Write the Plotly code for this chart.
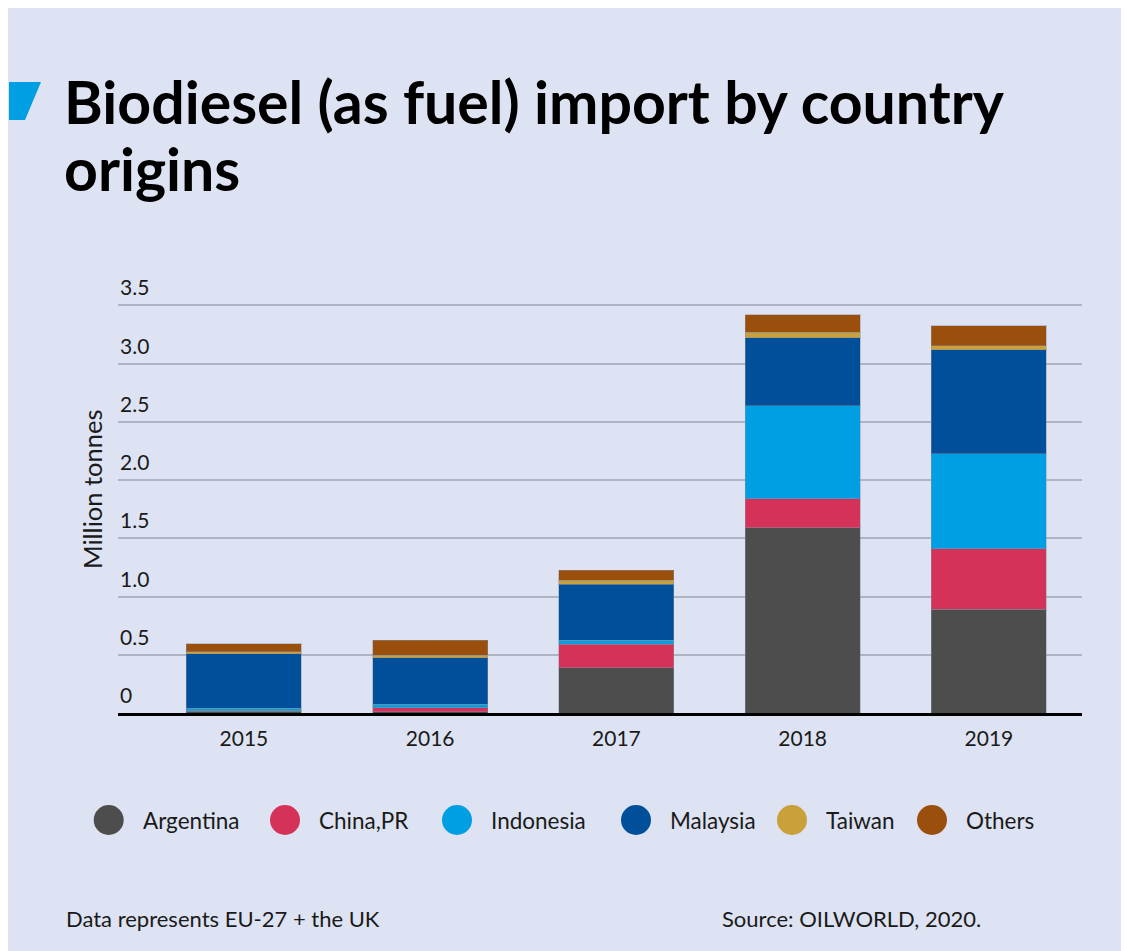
import plotly.graph_objects as go

# ---- data ----
years = ["2015", "2016", "2017", "2018", "2019"]
argentina = [0.015, 0.010, 0.39, 1.59, 0.89]
china = [0.005, 0.035, 0.20, 0.25, 0.52]
indonesia = [0.020, 0.030, 0.035, 0.80, 0.815]
malaysia = [0.470, 0.400, 0.480, 0.58, 0.895]
taiwan = [0.015, 0.020, 0.035, 0.05, 0.035]
others = [0.070, 0.130, 0.085, 0.15, 0.17]

series_names = ["Argentina", "China,PR", "Indonesia", "Malaysia", "Taiwan", "Others"]
series_values = [argentina, china, indonesia, malaysia, taiwan, others]
series_colors = ["#4d4d4d", "#d5325a", "#009fe3", "#004f9a", "#c9a03a", "#9b4f0c"]

y_tickvals = [0, 0.5, 1.0, 1.5, 2.0, 2.5, 3.0, 3.5]
y_ticktext = ["0", "0.5", "1.0", "1.5", "2.0", "2.5", "3.0", "3.5"]

title_lines = ["Biodiesel (as fuel) import by country", "origins"]
y_title = "Million tonnes"
note_text = "Data represents EU-27 + the UK"
source_text = "Source: OILWORLD, 2020."

# ---- layout geometry (page pixels; the page body adds an 8px offset) ----
OFF = 8
W, H = 1121, 943
L, R = 110, 47
T = 295
B = H - (713 - OFF)
PW = W - L - R
PH = H - T - B
FONT = "Lato"
PANEL = "#dde3f2"
TEXT = "#1a1a1a"


def xp(px):
    return (px - OFF - L) / PW


def yp(py):
    return (H - B - (py - OFF)) / PH


fig = go.Figure()
for name, vals, col in zip(series_names, series_values, series_colors):
    fig.add_trace(go.Bar(
        x=years, y=vals, name=name, marker_color=col,
        marker_line=dict(color="rgba(140,145,160,0.45)", width=1),
        width=0.617, showlegend=False,
    ))

shapes = [
    dict(type="path", xref="paper", yref="paper",
         path=f"M {xp(9)},{yp(82)} L {xp(41)},{yp(82)} L {xp(25)},{yp(120)} L {xp(9)},{yp(120)} Z",
         fillcolor="#009fe3", line_width=0),
]

annotations = []
# y tick labels
for v, t in zip(y_tickvals, y_ticktext):
    annotations.append(dict(x=0, xref="paper", y=v, yref="y", text=t, showarrow=False,
                            xanchor="left", yanchor="bottom", yshift=4,
                            font=dict(family=FONT, size=21, color=TEXT)))
# title (two lines placed separately for tighter leading)
for line, top in zip(title_lines, [64, 131]):
    annotations.append(dict(x=xp(62), y=yp(top), xref="paper", yref="paper", text=f"<b>{line}</b>",
                            showarrow=False, xanchor="left", yanchor="top", align="left",
                            font=dict(family=FONT, size=59, color="black")))
# y title
annotations.append(dict(x=xp(92), y=yp(490), xref="paper", yref="paper", text=y_title,
                        showarrow=False, textangle=-90, xanchor="center", yanchor="middle",
                        font=dict(family=FONT, size=25.5, color=TEXT)))
# legend (manual, circle swatches)
legend_x = [108.7, 285, 457, 636, 792, 932]
for name, col, lx in zip(series_names, series_colors, legend_x):
    shapes.append(dict(type="circle", xref="paper", yref="paper", xsizemode="pixel", ysizemode="pixel",
                       xanchor=xp(lx), yanchor=yp(820), x0=-15, x1=15, y0=-15, y1=15,
                       fillcolor=col, line_width=0))
    annotations.append(dict(x=xp(lx + 32), y=yp(820), xref="paper", yref="paper", text=name,
                            showarrow=False, xanchor="left", yanchor="middle",
                            font=dict(family=FONT, size=22.5, color=TEXT)))
# footer
annotations.append(dict(x=xp(64), y=yp(918), xref="paper", yref="paper", text=note_text,
                        showarrow=False, xanchor="left", yanchor="middle",
                        font=dict(family=FONT, size=22, color=TEXT)))
annotations.append(dict(x=xp(720), y=yp(918), xref="paper", yref="paper", text=source_text,
                        showarrow=False, xanchor="left", yanchor="middle",
                        font=dict(family=FONT, size=22, color=TEXT)))

fig.update_layout(
    width=W, height=H, autosize=False,
    margin=dict(l=L, r=R, t=T, b=B, pad=0),
    paper_bgcolor=PANEL, plot_bgcolor="rgba(0,0,0,0)",
    barmode="stack", showlegend=False,
    font=dict(family=FONT, color=TEXT),
    shapes=shapes, annotations=annotations,
    xaxis=dict(range=[-0.676, 4.5], showline=True, linecolor="black", linewidth=3,
               showgrid=False, ticks="", ticklabelstandoff=5,
               tickfont=dict(family=FONT, size=21, color=TEXT), fixedrange=True),
    yaxis=dict(range=[0, 3.52], tickvals=y_tickvals, showticklabels=False, showgrid=True,
               gridcolor="#afb4c4", gridwidth=2, zeroline=False, ticks="", fixedrange=True),
)

fig.write_html("out.html")
